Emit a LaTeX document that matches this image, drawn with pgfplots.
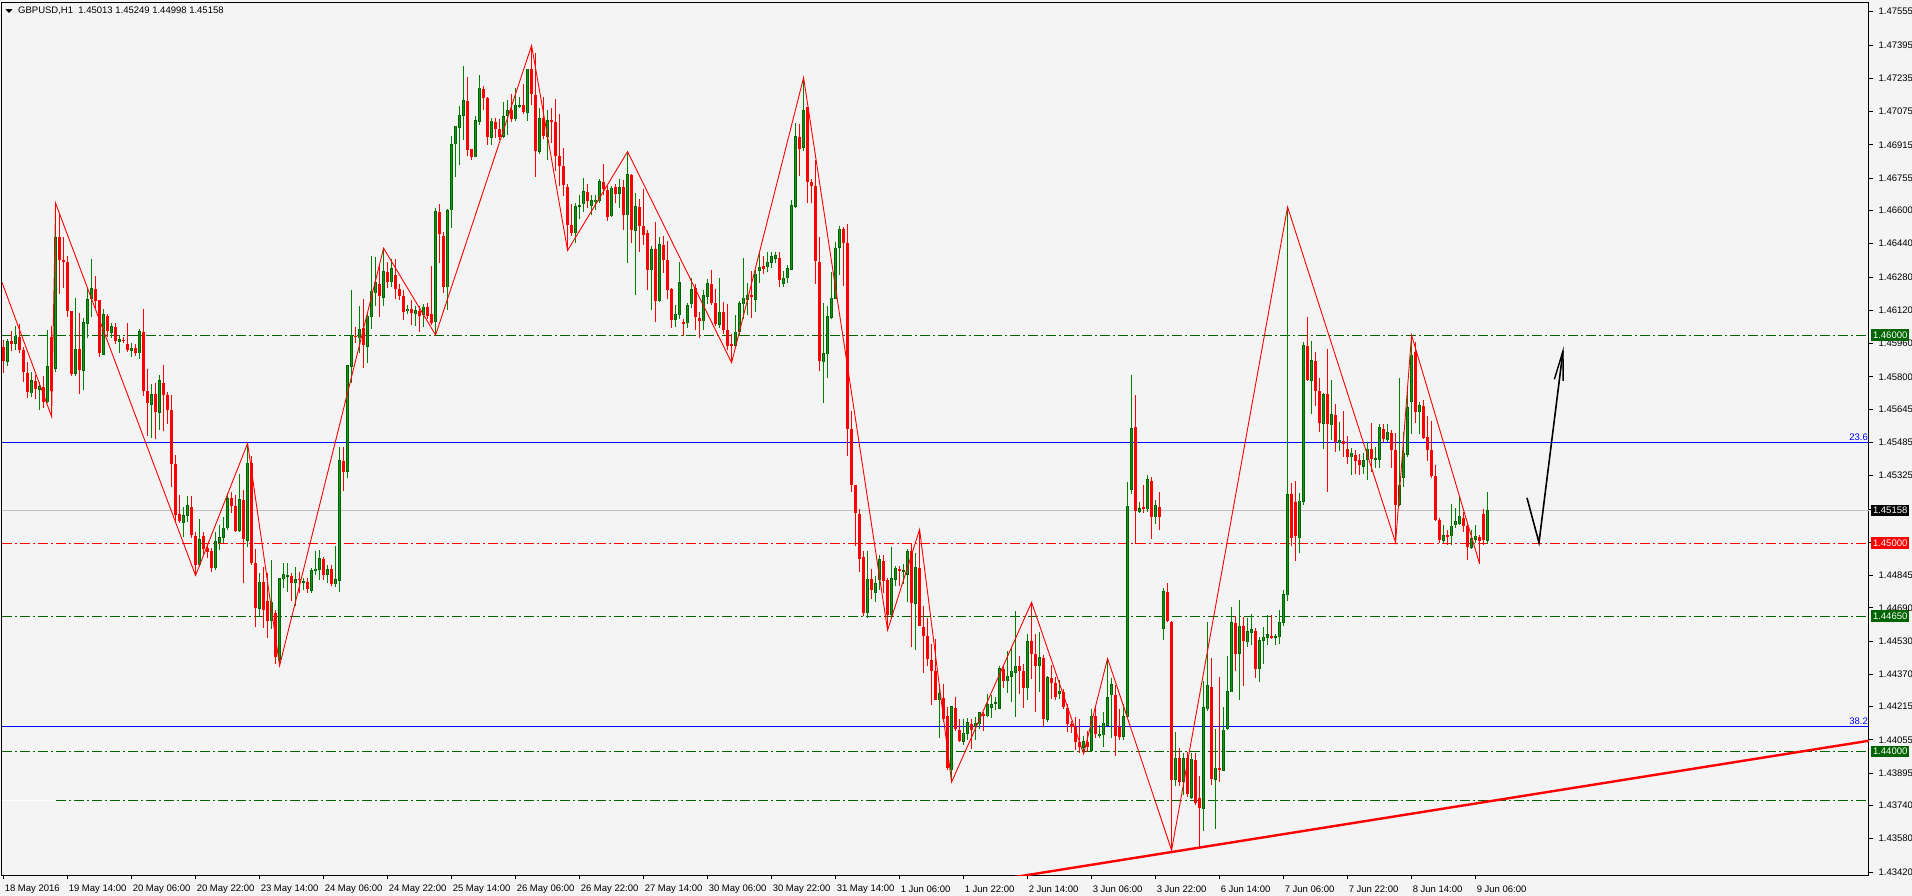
\documentclass[border=0pt]{standalone}
\usepackage{fontspec}
\setmainfont{Liberation Sans}
\usepackage{pgfplots}
\pgfplotsset{compat=1.18}
\usepackage{pgfplotstable}
\definecolor{bg}{RGB}{244,244,244}
\definecolor{dgreen}{RGB}{0,100,0}
\definecolor{wgreen}{RGB}{0,128,0}
\definecolor{bgreen}{RGB}{20,150,20}
\definecolor{mred}{RGB}{255,0,0}
\definecolor{mblue}{RGB}{0,0,255}
\definecolor{mgray}{RGB}{192,192,192}

\pgfplotstableread{
i o h l c
0 1.45945 1.45977 1.45817 1.45878
1 1.45873 1.45985 1.45854 1.45972
2 1.45972 1.46020 1.45926 1.45959
3 1.45959 1.46044 1.45929 1.45999
4 1.45993 1.46057 1.45913 1.45929
5 1.45929 1.45945 1.45777 1.45825
6 1.45820 1.45871 1.45697 1.45729
7 1.45721 1.45825 1.45701 1.45785
8 1.45780 1.45809 1.45692 1.45742
9 1.45737 1.45777 1.45641 1.45756
10 1.45751 1.45804 1.45649 1.45681
11 1.45677 1.46025 1.45673 1.45852
12 1.45993 1.46044 1.45609 1.45734
13 1.45841 1.46634 1.45825 1.46474
14 1.46474 1.46586 1.46198 1.46362
15 1.46362 1.46474 1.46225 1.46352
16 1.46352 1.46382 1.46089 1.46118
17 1.46118 1.46118 1.45804 1.45814
18 1.45817 1.46180 1.45804 1.45934
19 1.45934 1.46108 1.45717 1.45833
20 1.45830 1.46084 1.45737 1.46062
21 1.46054 1.46222 1.45988 1.46174
22 1.46172 1.46366 1.46089 1.46225
23 1.46225 1.46285 1.46129 1.46166
24 1.46169 1.46169 1.45897 1.45916
25 1.45908 1.46128 1.45908 1.46102
26 1.46092 1.46100 1.45993 1.46022
27 1.46012 1.46057 1.45988 1.46044
28 1.46040 1.46057 1.45958 1.45974
29 1.45969 1.46001 1.45913 1.45982
30 1.45980 1.45990 1.45960 1.45975
31 1.45958 1.46060 1.45921 1.45932
32 1.45926 1.45961 1.45894 1.45939
33 1.45939 1.45958 1.45902 1.45913
34 1.45913 1.46031 1.45886 1.46019
35 1.46016 1.46128 1.45709 1.45734
36 1.45732 1.45838 1.45517 1.45673
37 1.45665 1.45764 1.45508 1.45717
38 1.45717 1.45772 1.45500 1.45633
39 1.45629 1.45809 1.45548 1.45785
40 1.45772 1.45857 1.45540 1.45713
41 1.45713 1.45729 1.45576 1.45641
42 1.45641 1.45713 1.45272 1.45381
43 1.45381 1.45424 1.45096 1.45136
44 1.45141 1.45232 1.45096 1.45107
45 1.45101 1.45176 1.45032 1.45136
46 1.45133 1.45227 1.45104 1.45184
47 1.45173 1.45227 1.45024 1.45040
48 1.45035 1.45056 1.44845 1.44896
49 1.44896 1.45115 1.44888 1.45019
50 1.45035 1.45056 1.44944 1.44971
51 1.44976 1.45000 1.44928 1.44960
52 1.44963 1.44979 1.44863 1.44883
53 1.44880 1.45056 1.44872 1.45011
54 1.45003 1.45088 1.44968 1.45032
55 1.45027 1.45128 1.45000 1.45076
56 1.45072 1.45243 1.45064 1.45216
57 1.45216 1.45248 1.45147 1.45179
58 1.45179 1.45232 1.45056 1.45060
59 1.45060 1.45333 1.45056 1.45211
60 1.45208 1.45256 1.44811 1.45019
61 1.45013 1.45480 1.44984 1.45389
62 1.45388 1.45420 1.44896 1.44904
63 1.44904 1.44976 1.44599 1.44688
64 1.44684 1.44856 1.44643 1.44813
65 1.44813 1.44888 1.44591 1.44680
66 1.44723 1.44859 1.44548 1.44628
67 1.44628 1.44920 1.44591 1.44720
68 1.44664 1.44680 1.44420 1.44455
69 1.44439 1.44835 1.44412 1.44832
70 1.44827 1.44907 1.44787 1.44853
71 1.44843 1.44907 1.44764 1.44848
72 1.44843 1.44856 1.44723 1.44808
73 1.44808 1.44888 1.44700 1.44829
74 1.44829 1.44864 1.44760 1.44824
75 1.44811 1.44832 1.44776 1.44816
76 1.44816 1.44832 1.44760 1.44779
77 1.44772 1.44880 1.44760 1.44872
78 1.44867 1.44963 1.44848 1.44877
79 1.44872 1.44968 1.44824 1.44928
80 1.44928 1.44936 1.44824 1.44851
81 1.44848 1.44896 1.44808 1.44875
82 1.44875 1.44896 1.44795 1.44803
83 1.44803 1.44987 1.44792 1.44827
84 1.44820 1.45465 1.44768 1.45401
85 1.45397 1.45465 1.45253 1.45344
86 1.45344 1.45857 1.45312 1.45857
87 1.45849 1.46218 1.45769 1.45999
88 1.45999 1.46041 1.45961 1.45993
89 1.45985 1.46141 1.45913 1.46033
90 1.46033 1.46173 1.45846 1.45950
91 1.45945 1.46105 1.45868 1.46093
92 1.46085 1.46381 1.46030 1.46213
93 1.46202 1.46378 1.46142 1.46254
94 1.46246 1.46341 1.46089 1.46186
95 1.46180 1.46418 1.46142 1.46309
96 1.46305 1.46354 1.46225 1.46257
97 1.46254 1.46366 1.46233 1.46321
98 1.46289 1.46366 1.46177 1.46222
99 1.46222 1.46249 1.46169 1.46190
100 1.46190 1.46217 1.46073 1.46113
101 1.46116 1.46145 1.46105 1.46129
102 1.46126 1.46169 1.46049 1.46108
103 1.46100 1.46142 1.46046 1.46121
104 1.46116 1.46142 1.46017 1.46094
105 1.46097 1.46148 1.46041 1.46137
106 1.46137 1.46153 1.46078 1.46094
107 1.46100 1.46334 1.46049 1.46057
108 1.46062 1.46613 1.46001 1.46597
109 1.46591 1.46634 1.46349 1.46485
110 1.46478 1.46498 1.46201 1.46233
111 1.46230 1.46607 1.46121 1.46602
112 1.46602 1.46959 1.46517 1.46919
113 1.46918 1.47006 1.46762 1.47006
114 1.46998 1.47103 1.46818 1.47058
115 1.47055 1.47294 1.46938 1.47131
116 1.47126 1.47243 1.46863 1.46890
117 1.46893 1.46898 1.46845 1.46858
118 1.46855 1.47055 1.46855 1.47034
119 1.47026 1.47251 1.47014 1.47190
120 1.47183 1.47198 1.47082 1.47142
121 1.47142 1.47147 1.46914 1.46954
122 1.46950 1.47046 1.46914 1.47030
123 1.47023 1.47042 1.46946 1.46990
124 1.46991 1.47039 1.46938 1.46954
125 1.46954 1.47123 1.46950 1.47054
126 1.47054 1.47131 1.46962 1.47082
127 1.47082 1.47158 1.47023 1.47038
128 1.47038 1.47187 1.47030 1.47107
129 1.47099 1.47147 1.47095 1.47107
130 1.47107 1.47211 1.47066 1.47071
131 1.47066 1.47280 1.47030 1.47280
132 1.47278 1.47392 1.47107 1.47159
133 1.47155 1.47355 1.46762 1.46887
134 1.46882 1.47092 1.46870 1.47044
135 1.47044 1.47145 1.46941 1.46958
136 1.46955 1.47083 1.46843 1.47035
137 1.47035 1.47095 1.46923 1.47024
138 1.47024 1.47136 1.46788 1.46861
139 1.46864 1.47065 1.46718 1.46813
140 1.46813 1.46900 1.46669 1.46722
141 1.46715 1.46727 1.46407 1.46532
142 1.46532 1.46633 1.46478 1.46491
143 1.46491 1.46638 1.46443 1.46621
144 1.46621 1.46674 1.46558 1.46626
145 1.46630 1.46758 1.46594 1.46692
146 1.46687 1.46727 1.46612 1.46647
147 1.46621 1.46674 1.46576 1.46651
148 1.46642 1.46674 1.46603 1.46651
149 1.46644 1.46750 1.46638 1.46742
150 1.46736 1.46822 1.46674 1.46701
151 1.46701 1.46718 1.46552 1.46571
152 1.46573 1.46718 1.46567 1.46710
153 1.46713 1.46727 1.46638 1.46678
154 1.46679 1.46750 1.46612 1.46713
155 1.46713 1.46745 1.46505 1.46580
156 1.46576 1.46882 1.46349 1.46775
157 1.46772 1.46775 1.46443 1.46505
158 1.46502 1.46683 1.46194 1.46621
159 1.46617 1.46656 1.46402 1.46523
160 1.46523 1.46701 1.46434 1.46484
161 1.46493 1.46505 1.46217 1.46315
162 1.46313 1.46429 1.46123 1.46413
163 1.46413 1.46544 1.46066 1.46164
164 1.46164 1.46473 1.46158 1.46439
165 1.46434 1.46478 1.46301 1.46363
166 1.46363 1.46452 1.46176 1.46217
167 1.46224 1.46229 1.46037 1.46075
168 1.46075 1.46148 1.46039 1.46105
169 1.46096 1.46354 1.46078 1.46254
170 1.46066 1.46078 1.45998 1.46055
171 1.46057 1.46158 1.46034 1.46146
172 1.46148 1.46274 1.46132 1.46221
173 1.46226 1.46247 1.46028 1.46087
174 1.46084 1.46114 1.45989 1.46069
175 1.46069 1.46217 1.46025 1.46194
176 1.46185 1.46270 1.46149 1.46251
177 1.46247 1.46313 1.46146 1.46155
178 1.46155 1.46221 1.46043 1.46055
179 1.46052 1.46277 1.46034 1.46114
180 1.46110 1.46158 1.46007 1.46028
181 1.46025 1.46148 1.45927 1.45951
182 1.45957 1.46007 1.45868 1.45950
183 1.45948 1.46096 1.45945 1.46019
184 1.46016 1.46165 1.45998 1.46155
185 1.46149 1.46372 1.46078 1.46180
186 1.46171 1.46251 1.46096 1.46194
187 1.46194 1.46309 1.46082 1.46185
188 1.46171 1.46313 1.46114 1.46297
189 1.46306 1.46395 1.46251 1.46327
190 1.46333 1.46381 1.46297 1.46318
191 1.46327 1.46402 1.46304 1.46354
192 1.46349 1.46402 1.46322 1.46381
193 1.46368 1.46402 1.46349 1.46386
194 1.46372 1.46402 1.46233 1.46265
195 1.46247 1.46309 1.46233 1.46277
196 1.46274 1.46336 1.46254 1.46324
197 1.46315 1.46653 1.46315 1.46624
198 1.46617 1.47021 1.46612 1.46958
199 1.46953 1.47017 1.46766 1.46896
200 1.46900 1.47238 1.46887 1.47083
201 1.47095 1.47095 1.46638 1.46736
202 1.46736 1.46750 1.46638 1.46718
203 1.46718 1.46843 1.46247 1.46357
204 1.46354 1.46473 1.45829 1.45874
205 1.45870 1.46155 1.45675 1.45913
206 1.45909 1.46141 1.45794 1.46092
207 1.46084 1.46304 1.46078 1.46180
208 1.46176 1.46448 1.46176 1.46421
209 1.46421 1.46523 1.46292 1.46514
210 1.46510 1.46523 1.46238 1.46443
211 1.46443 1.46537 1.45420 1.45548
212 1.45548 1.45637 1.45246 1.45282
213 1.45282 1.45282 1.44988 1.45145
214 1.45139 1.45164 1.44860 1.44926
215 1.44934 1.44962 1.44650 1.44667
216 1.44667 1.44962 1.44639 1.44831
217 1.44828 1.44877 1.44734 1.44775
218 1.44762 1.44841 1.44720 1.44810
219 1.44825 1.44943 1.44778 1.44923
220 1.44915 1.44943 1.44762 1.44820
221 1.44825 1.44833 1.44582 1.44656
222 1.44656 1.44982 1.44650 1.44831
223 1.44825 1.44893 1.44798 1.44884
224 1.44877 1.44893 1.44795 1.44866
225 1.44866 1.44902 1.44803 1.44872
226 1.44849 1.44971 1.44716 1.44962
227 1.44964 1.45000 1.44503 1.44713
228 1.44710 1.44951 1.44487 1.44885
229 1.44882 1.45066 1.44602 1.44602
230 1.44598 1.44697 1.44377 1.44554
231 1.44554 1.44639 1.44410 1.44442
232 1.44442 1.44516 1.44224 1.44388
233 1.44388 1.44541 1.44246 1.44249
234 1.44246 1.44323 1.44065 1.44282
235 1.44254 1.44323 1.44142 1.44156
236 1.44169 1.44213 1.43910 1.43918
237 1.43910 1.44221 1.43852 1.44218
238 1.44208 1.44262 1.44098 1.44106
239 1.44105 1.44156 1.44043 1.44051
240 1.44046 1.44156 1.44031 1.44090
241 1.44087 1.44162 1.44056 1.44142
242 1.44134 1.44156 1.44011 1.44103
243 1.44119 1.44164 1.44056 1.44139
244 1.44131 1.44191 1.44110 1.44188
245 1.44180 1.44191 1.44098 1.44172
246 1.44169 1.44274 1.44164 1.44226
247 1.44210 1.44270 1.44159 1.44229
248 1.44229 1.44262 1.44200 1.44236
249 1.44205 1.44410 1.44205 1.44401
250 1.44397 1.44410 1.44303 1.44336
251 1.44336 1.44483 1.44283 1.44364
252 1.44360 1.44500 1.44238 1.44388
253 1.44377 1.44677 1.44164 1.44413
254 1.44410 1.44459 1.44274 1.44386
255 1.44388 1.44421 1.44208 1.44306
256 1.44303 1.44566 1.44246 1.44529
257 1.44529 1.44716 1.44349 1.44470
258 1.44470 1.44566 1.44188 1.44410
259 1.44410 1.44574 1.44287 1.44454
260 1.44447 1.44464 1.44118 1.44156
261 1.44152 1.44360 1.44139 1.44356
262 1.44352 1.44413 1.44254 1.44328
263 1.44331 1.44356 1.44245 1.44260
264 1.44275 1.44344 1.44251 1.44290
265 1.44287 1.44300 1.44202 1.44213
266 1.44208 1.44229 1.44093 1.44131
267 1.44131 1.44147 1.44090 1.44119
268 1.44118 1.44164 1.44008 1.44043
269 1.44046 1.44156 1.43992 1.44024
270 1.44016 1.44073 1.43988 1.44049
271 1.44046 1.44098 1.43995 1.44021
272 1.44005 1.44202 1.43995 1.44172
273 1.44172 1.44213 1.44065 1.44082
274 1.44077 1.44126 1.44065 1.44085
275 1.44077 1.44188 1.44021 1.44139
276 1.44122 1.44446 1.44122 1.44260
277 1.44270 1.44352 1.44065 1.44323
278 1.44270 1.44320 1.43979 1.44073
279 1.44115 1.44205 1.44057 1.44070
280 1.44070 1.44229 1.44057 1.44169
281 1.44164 1.45295 1.44164 1.45180
282 1.45258 1.45809 1.45238 1.45553
283 1.45558 1.45713 1.45000 1.45156
284 1.45151 1.45197 1.45148 1.45169
285 1.45172 1.45279 1.45148 1.45164
286 1.45164 1.45328 1.45148 1.45308
287 1.45300 1.45320 1.45021 1.45126
288 1.45126 1.45208 1.45094 1.45184
289 1.45177 1.45246 1.45066 1.45126
290 1.44590 1.44787 1.44533 1.44770
291 1.44766 1.44811 1.44623 1.44628
292 1.44623 1.44628 1.43525 1.43863
293 1.43863 1.44094 1.43833 1.43970
294 1.43966 1.44018 1.43833 1.43853
295 1.43853 1.43991 1.43792 1.43966
296 1.43970 1.43997 1.43781 1.43796
297 1.43777 1.43991 1.43771 1.43966
298 1.43960 1.43991 1.43745 1.43751
299 1.43775 1.43884 1.43539 1.43730
300 1.43726 1.44336 1.43617 1.44213
301 1.44202 1.44623 1.44196 1.44319
302 1.44309 1.44449 1.43840 1.43868
303 1.43863 1.44106 1.43627 1.43921
304 1.43919 1.44358 1.43851 1.43911
305 1.43909 1.44213 1.43905 1.44106
306 1.44106 1.44459 1.44100 1.44289
307 1.44285 1.44695 1.44285 1.44623
308 1.44619 1.44654 1.44387 1.44469
309 1.44469 1.44726 1.44248 1.44603
310 1.44603 1.44644 1.44315 1.44531
311 1.44525 1.44644 1.44500 1.44580
312 1.44568 1.44660 1.44510 1.44586
313 1.44578 1.44593 1.44352 1.44398
314 1.44398 1.44552 1.44336 1.44535
315 1.44531 1.44599 1.44418 1.44552
316 1.44545 1.44654 1.44510 1.44562
317 1.44555 1.44654 1.44541 1.44549
318 1.44549 1.44566 1.44510 1.44555
319 1.44547 1.44679 1.44516 1.44623
320 1.44619 1.44778 1.44603 1.44757
321 1.44751 1.46616 1.44722 1.45236
322 1.45236 1.45291 1.44989 1.45024
323 1.45199 1.45301 1.44915 1.45034
324 1.45024 1.45240 1.44952 1.45205
325 1.45199 1.45969 1.45184 1.45954
326 1.45948 1.46086 1.45778 1.45784
327 1.45780 1.45973 1.45620 1.45881
328 1.45876 1.45922 1.45661 1.45733
329 1.45733 1.45794 1.45537 1.45579
330 1.45574 1.45722 1.45455 1.45718
331 1.45718 1.45934 1.45246 1.45572
332 1.45568 1.45784 1.45496 1.45620
333 1.45616 1.45671 1.45441 1.45486
334 1.45480 1.45583 1.45445 1.45496
335 1.45492 1.45636 1.45414 1.45476
336 1.45455 1.45517 1.45383 1.45414
337 1.45414 1.45459 1.45327 1.45435
338 1.45425 1.45450 1.45332 1.45395
339 1.45400 1.45431 1.45327 1.45377
340 1.45367 1.45435 1.45332 1.45400
341 1.45400 1.45486 1.45306 1.45455
342 1.45455 1.45579 1.45342 1.45404
343 1.45404 1.45466 1.45363 1.45408
344 1.45400 1.45572 1.45363 1.45558
345 1.45552 1.45572 1.45486 1.45500
346 1.45496 1.45572 1.45486 1.45537
347 1.45531 1.45544 1.45363 1.45449
348 1.45449 1.45531 1.45003 1.45184
349 1.45184 1.45794 1.45178 1.45281
350 1.45312 1.45537 1.45270 1.45435
351 1.45425 1.45743 1.45414 1.45655
352 1.45677 1.46000 1.45527 1.45907
353 1.45922 1.45969 1.45579 1.45630
354 1.45630 1.45681 1.45527 1.45665
355 1.45661 1.45692 1.45503 1.45507
356 1.45511 1.45613 1.45394 1.45451
357 1.45451 1.45589 1.45312 1.45326
358 1.45326 1.45377 1.45106 1.45112
359 1.45112 1.45123 1.45003 1.45017
360 1.45014 1.45086 1.45003 1.45040
361 1.45040 1.45065 1.44993 1.45034
362 1.45034 1.45188 1.44993 1.45086
363 1.45086 1.45172 1.45075 1.45106
364 1.45092 1.45223 1.45086 1.45133
365 1.45123 1.45153 1.45055 1.45086
366 1.45086 1.45096 1.44921 1.44983
367 1.44979 1.45065 1.44973 1.45024
368 1.45018 1.45086 1.45003 1.45038
369 1.45030 1.45038 1.44901 1.45014
370 1.45141 1.45168 1.44993 1.45014
371 1.45013 1.45249 1.44998 1.45158
}\bars

\pgfplotstableread{
x y
-0.4 1.46254
12 1.45609
13 1.46634
48 1.44845
61 1.45480
69 1.44412
95 1.46418
108 1.46001
132 1.47392
141 1.46407
156 1.46882
182 1.45868
200 1.47238
221 1.44582
229 1.45066
237 1.43852
257 1.44716
270 1.43988
276 1.44446
292 1.43525
321 1.46616
348 1.45003
352 1.46000
369 1.44901
}\zigzag

\newcommand{\mtfont}{\fontsize{9.5}{10.5}\selectfont}
\pgfplotsset{candle/.style={draw=none, no markers, forget plot}}

\begin{document}
\begin{tikzpicture}
\fill[bg] (0pt,0pt) rectangle (1912pt,896pt);
\path[use as bounding box] (0pt,0pt) rectangle (1912pt,896pt);
\begin{axis}[
  at={(2pt,20.7pt)}, anchor=south west,
  scale only axis, width=1867pt, height=872.6pt,
  xmin=-0.4, xmax=466.35, ymin=1.43404, ymax=1.47598,
  axis line style={black, line width=1pt},
  clip mode=individual,
  scaled ticks=false,
  xtick={0,16,...,368},
  xticklabels={18 May 2016,19 May 14:00,20 May 06:00,20 May 22:00,23 May 14:00,24 May 06:00,24 May 22:00,25 May 14:00,26 May 06:00,26 May 22:00,27 May 14:00,30 May 06:00,30 May 22:00,31 May 14:00,1 Jun 06:00,1 Jun 22:00,2 Jun 14:00,3 Jun 06:00,3 Jun 22:00,6 Jun 14:00,7 Jun 06:00,7 Jun 22:00,8 Jun 14:00,9 Jun 06:00},
  ytick={1.47555,1.47395,1.47235,1.47075,1.46915,1.46755,1.46600,1.46440,1.46280,1.46120,1.45960,1.45800,1.45645,1.45485,1.45325,1.44845,1.44690,1.44530,1.44370,1.44215,1.44055,1.43895,1.43740,1.43580,1.43420},
  yticklabels={1.47555,1.47395,1.47235,1.47075,1.46915,1.46755,1.46600,1.46440,1.46280,1.46120,1.45960,1.45800,1.45645,1.45485,1.45325,1.44845,1.44690,1.44530,1.44370,1.44215,1.44055,1.43895,1.43740,1.43580,1.43420},
  extra y ticks={1.45165,1.45005},
  extra y tick labels={},
  xtick pos=left, ytick pos=right, yticklabel pos=right,
  tick align=outside, major tick length=4pt,
  tick style={black, line width=0.8pt},
  xticklabel style={anchor=west, inner sep=0pt, xshift=1pt, yshift=-10pt, font=\mtfont},
  yticklabel style={anchor=west, inner sep=0pt, xshift=5.5pt, font=\mtfont},
]
% horizontal levels
\addplot[mgray, line width=1pt] coordinates {(-0.4,1.45158) (466.35,1.45158)};
\addplot[mblue, line width=1.3pt] coordinates {(-0.4,1.45485) (466.35,1.45485)};
\addplot[mblue, line width=1.1pt] coordinates {(-0.4,1.44120) (466.35,1.44120)};
\addplot[dgreen, line width=1.1pt, dash pattern=on 10pt off 3pt on 2pt off 3pt] coordinates {(-0.4,1.46000) (466.35,1.46000)};
\addplot[mred, line width=1.1pt, dash pattern=on 10pt off 3pt on 2pt off 3pt] coordinates {(-0.4,1.45000) (466.35,1.45000)};
\addplot[dgreen, line width=1.1pt, dash pattern=on 10pt off 3pt on 2pt off 3pt] coordinates {(-0.4,1.44650) (466.35,1.44650)};
\addplot[dgreen, line width=1.1pt, dash pattern=on 10pt off 3pt on 2pt off 3pt] coordinates {(-0.4,1.44000) (466.35,1.44000)};
\addplot[dgreen, line width=1.1pt, dash pattern=on 10pt off 3pt on 2pt off 3pt] coordinates {(-0.4,1.43762) (466.35,1.43762)};
\addplot[white, line width=1.2pt] coordinates {(-0.4,1.43762) (13,1.43762)};

% up candles: wick
\addplot[candle, restrict expr to domain={\thisrow{c}-\thisrow{o}}{0:1},
  error bars/.cd, y dir=both, y explicit, error mark=none,
  error bar style={draw=wgreen, line width=1pt}]
  table[x=i, y expr={(\thisrow{h}+\thisrow{l})/2}, y error expr={(\thisrow{h}-\thisrow{l})/2}] {\bars};
% up candles: body
\addplot[candle, restrict expr to domain={\thisrow{c}-\thisrow{o}}{0:1},
  error bars/.cd, y dir=both, y explicit, error mark=none,
  error bar style={draw=dgreen, line width=3.2pt}]
  table[x=i, y expr={(\thisrow{o}+\thisrow{c})/2}, y error expr={max(abs(\thisrow{c}-\thisrow{o})/2,0.000022)}] {\bars};
\addplot[candle, restrict expr to domain={\thisrow{c}-\thisrow{o}}{0.00008:1},
  error bars/.cd, y dir=both, y explicit, error mark=none,
  error bar style={draw=bgreen, line width=1.2pt}]
  table[x=i, y expr={(\thisrow{o}+\thisrow{c})/2}, y error expr={abs(\thisrow{c}-\thisrow{o})/2-0.00003}] {\bars};
% down candles: wick
\addplot[candle, restrict expr to domain={\thisrow{c}-\thisrow{o}}{-1:-0.000001},
  error bars/.cd, y dir=both, y explicit, error mark=none,
  error bar style={draw=mred, line width=1pt}]
  table[x=i, y expr={(\thisrow{h}+\thisrow{l})/2}, y error expr={(\thisrow{h}-\thisrow{l})/2}] {\bars};
% down candles: body
\addplot[candle, restrict expr to domain={\thisrow{c}-\thisrow{o}}{-1:-0.000001},
  error bars/.cd, y dir=both, y explicit, error mark=none,
  error bar style={draw=mred, line width=3.2pt}]
  table[x=i, y expr={(\thisrow{o}+\thisrow{c})/2}, y error expr={max(abs(\thisrow{c}-\thisrow{o})/2,0.000022)}] {\bars};

% zigzag
\addplot[mred, line width=0.9pt] table[x=x, y=y] {\zigzag};
% trend line
\addplot[mred, line width=2.4pt] coordinates {(250,1.43387) (470,1.44062)};
% arrow
\addplot[black, line width=1.6pt] coordinates {(380.85,1.45218) (383.85,1.45003) (389.85,1.45924)};
\addplot[black, line width=1.4pt] coordinates {(387.7,1.45788) (389.85,1.45924) (389.9,1.45780)};

\coordinate (L1) at (axis cs:466.35,1.46000);
\coordinate (L2) at (axis cs:466.35,1.45158);
\coordinate (L3) at (axis cs:466.35,1.45000);
\coordinate (L4) at (axis cs:466.35,1.44650);
\coordinate (L5) at (axis cs:466.35,1.44000);
\coordinate (F1) at (axis cs:466.35,1.45485);
\coordinate (F2) at (axis cs:466.35,1.44120);
\end{axis}
\tikzset{pbox/.style={anchor=west, inner sep=0pt, minimum width=38pt, minimum height=11.5pt, text=white, font=\mtfont}}
\node[pbox, fill=dgreen] at ([xshift=2pt]L1) {1.46000};
\node[pbox, fill=black] at ([xshift=2pt]L2) {1.45158};
\node[pbox, fill=mred] at ([xshift=2pt]L3) {1.45000};
\node[pbox, fill=dgreen] at ([xshift=2pt]L4) {1.44650};
\node[pbox, fill=dgreen] at ([xshift=2pt]L5) {1.44000};
\node[anchor=south east, inner sep=0pt, text=mblue, font=\mtfont] at ([xshift=-1pt,yshift=2pt]F1) {23.6};
\node[anchor=south east, inner sep=0pt, text=mblue, font=\mtfont] at ([xshift=-1pt,yshift=2pt]F2) {38.2};
\fill[black] (5.5pt,886.8pt) -- (12.5pt,886.8pt) -- (9pt,883pt) -- cycle;
\node[anchor=west, inner sep=0pt, font=\mtfont] at (18pt,885pt) {GBPUSD,H1\ \ 1.45013 1.45249 1.44998 1.45158};
\end{tikzpicture}
\end{document}
